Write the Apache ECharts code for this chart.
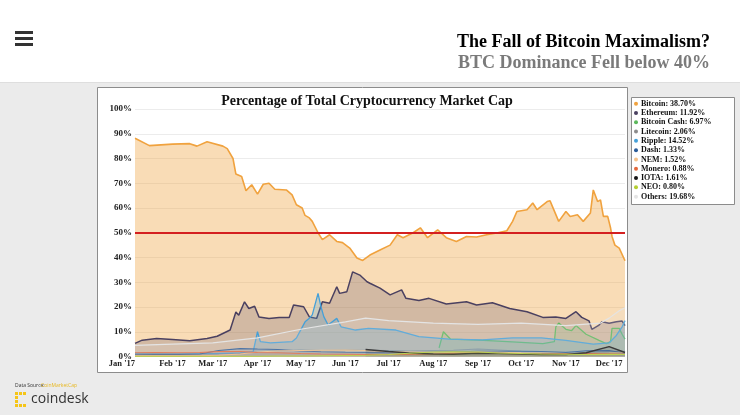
<!DOCTYPE html>
<html><head><meta charset="utf-8">
<script src="https://cdn.jsdelivr.net/npm/echarts@6/dist/echarts.min.js"></script>
<style>html,body{margin:0;padding:0;background:#ebebeb}#c{width:740px;height:415px}</style>
</head><body><div id="c"></div>
<script>
// ---- data ----
const pageTitle = 'The Fall of Bitcoin Maximalism?';
const pageSubtitle = 'BTC Dominance Fell below 40%';
const chartTitle = 'Percentage of Total Cryptocurrency Market Cap';
const seriesNames = ['Bitcoin','Ethereum','Bitcoin Cash','Litecoin','Ripple','Dash','NEM','Monero','IOTA','NEO','Others'];
const legendPct = ['38.70%','11.92%','6.97%','2.06%','14.52%','1.33%','1.52%','0.88%','1.61%','0.80%','19.68%'];
const monthNames = ['Jan','Feb','Mar','Apr','May','Jun','Jul','Aug','Sep','Oct','Nov','Dec'];
const xMin = '2017-01-06', xMax = '2017-12-12';
const referenceLine = 50;

const btcDates = ['2017-01-06','2017-01-16','2017-02-01','2017-02-13','2017-02-18','2017-02-25','2017-03-08','2017-03-11','2017-03-15','2017-03-17','2017-03-21','2017-03-24','2017-03-28','2017-04-01','2017-04-05','2017-04-09','2017-04-13','2017-04-21','2017-04-25','2017-04-28','2017-05-02','2017-05-04','2017-05-07','2017-05-09','2017-05-13','2017-05-16','2017-05-21','2017-05-26','2017-05-30','2017-06-04','2017-06-09','2017-06-13','2017-06-18','2017-06-25','2017-07-02','2017-07-07','2017-07-11','2017-07-18','2017-07-23','2017-07-28','2017-08-04','2017-08-10','2017-08-17','2017-08-24','2017-08-31','2017-09-07','2017-09-14','2017-09-21','2017-09-25','2017-09-28','2017-10-05','2017-10-09','2017-10-12','2017-10-19','2017-10-21','2017-10-27','2017-11-01','2017-11-04','2017-11-09','2017-11-13','2017-11-18','2017-11-20','2017-11-23','2017-11-25','2017-11-27','2017-11-30','2017-12-02','2017-12-03','2017-12-05','2017-12-08','2017-12-12'];
const btcValues = [88.2,85.2,85.8,86.0,85.0,86.8,85.0,84.0,80.0,73.7,72.7,67.0,69.4,65.6,69.6,70.0,67.6,67.3,65.3,61.3,60.0,57.0,56.0,54.6,50.0,47.2,49.2,46.5,46.0,43.8,39.8,38.8,41.0,43.0,45.0,49.2,48.0,50.0,52.0,48.0,51.2,48.0,46.5,48.5,48.3,49.2,49.9,50.8,54.6,58.6,59.3,62.0,59.3,62.6,62.9,54.6,58.6,56.6,57.3,54.6,58.0,67.3,62.6,63.3,56.6,56.6,51.9,48.5,45.0,43.8,38.7];

const ethDates = ['2017-01-06','2017-01-11','2017-01-21','2017-02-01','2017-02-13','2017-02-25','2017-03-04','2017-03-13','2017-03-17','2017-03-19','2017-03-23','2017-03-26','2017-03-30','2017-04-02','2017-04-09','2017-04-16','2017-04-23','2017-04-26','2017-04-30','2017-05-03','2017-05-07','2017-05-12','2017-05-16','2017-05-21','2017-05-26','2017-05-28','2017-06-02','2017-06-06','2017-06-11','2017-06-16','2017-06-18','2017-06-25','2017-07-02','2017-07-10','2017-07-13','2017-07-22','2017-07-29','2017-08-10','2017-08-24','2017-08-31','2017-09-11','2017-09-23','2017-10-05','2017-10-16','2017-10-25','2017-11-01','2017-11-08','2017-11-12','2017-11-17','2017-11-19','2017-11-24','2017-11-26','2017-12-01','2017-12-06','2017-12-10','2017-12-12'];
const ethValues = [5.3,6.6,7.3,6.9,6.4,7.3,8.2,10.7,18.0,16.7,22.1,19.4,20.3,16.0,15.4,15.8,15.8,20.8,20.4,20.1,16.0,15.4,22.1,21.5,28.2,25.5,26.2,34.2,32.9,30.2,29.6,27.6,24.9,26.9,23.5,22.6,23.5,21.2,22.1,20.8,21.7,19.4,18.1,15.8,16.0,15.4,18.1,15.8,14.4,11.0,12.7,14.0,13.4,14.0,14.3,12.5];

const xrpDates = ['2017-01-06','2017-02-01','2017-03-01','2017-03-20','2017-03-29','2017-04-01','2017-04-03','2017-04-10','2017-04-25','2017-04-28','2017-05-04','2017-05-07','2017-05-09','2017-05-13','2017-05-15','2017-05-17','2017-05-20','2017-05-26','2017-05-29','2017-06-08','2017-06-17','2017-07-06','2017-07-22','2017-08-12','2017-09-04','2017-09-25','2017-10-15','2017-11-01','2017-11-20','2017-12-01','2017-12-06','2017-12-10','2017-12-12'];
const xrpValues = [1.3,1.2,1.2,1.5,2.0,10.0,6.0,5.5,6.0,7.5,14.0,15.5,16.8,25.5,20.2,16.1,12.7,15.4,12.0,10.7,11.4,10.7,8.0,7.0,6.7,7.5,7.5,6.5,5.0,5.5,8.5,12.0,14.5];

const bchDates = ['2017-08-05','2017-08-08','2017-08-13','2017-09-05','2017-09-28','2017-10-16','2017-10-24','2017-10-25','2017-10-27','2017-11-01','2017-11-05','2017-11-08','2017-11-15','2017-11-24','2017-11-29','2017-12-02','2017-12-03','2017-12-08','2017-12-10','2017-12-12'];
const bchValues = [3.5,10.0,7.0,6.5,5.8,5.2,6.0,12.0,13.5,11.0,10.5,12.5,9.0,6.5,5.2,6.0,11.4,11.4,9.0,7.0];

const othersDates = ['2017-01-06','2017-02-01','2017-03-01','2017-04-01','2017-05-01','2017-06-01','2017-06-15','2017-07-01','2017-08-01','2017-09-01','2017-10-01','2017-11-01','2017-11-25','2017-12-01','2017-12-08','2017-12-12'];
const othersValues = [4.5,5.0,5.5,7.5,11.0,14.0,15.5,14.5,13.5,13.0,13.5,12.5,13.5,15.5,18.5,19.7];

const smallDates = ['2017-01-06','2017-01-20','2017-02-05','2017-02-20','2017-03-05','2017-03-20','2017-04-01','2017-04-15','2017-05-01','2017-05-15','2017-06-01','2017-06-15','2017-07-01','2017-07-15','2017-08-01','2017-08-15','2017-09-01','2017-09-15','2017-10-01','2017-10-15','2017-11-01','2017-11-15','2017-12-01','2017-12-12'];
const ltcValues  = [1.3,1.2,1.2,1.1,1.2,1.3,1.8,2.3,2.6,2.4,2.6,2.5,2.4,2.2,2.4,2.5,3.0,2.6,2.1,1.9,1.8,1.7,2.0,2.06];
const dashValues = [0.7,0.8,0.8,1.0,2.4,3.2,3.0,2.8,2.2,1.9,1.7,1.6,1.5,1.6,1.8,1.8,2.1,2.1,2.1,2.0,1.6,2.3,2.4,1.33];
const nemValues  = [0.3,0.3,0.3,0.3,0.5,1.0,1.8,2.2,2.4,2.5,2.6,2.4,1.9,1.8,1.7,1.6,1.8,1.7,1.5,1.4,1.2,1.3,1.4,1.52];
const xmrValues  = [1.5,1.6,1.5,1.6,2.0,2.0,1.6,1.5,1.2,1.0,0.9,0.8,0.8,0.8,1.0,1.3,1.4,1.2,1.1,1.0,1.1,1.2,1.1,0.88];
const iotaValues = [null,null,null,null,null,null,null,null,null,null,null,2.8,2.0,1.4,1.0,0.9,1.3,1.2,1.0,0.8,0.8,1.5,4.0,1.61];
const neoValues  = [0.1,0.1,0.1,0.1,0.1,0.1,0.1,0.2,0.2,0.3,0.4,0.5,0.8,1.3,1.8,1.9,1.8,1.4,1.2,1.0,0.9,0.8,0.9,0.80];

// ---- chart ----
const zip = (d, v) => d.map((x, i) => [x, v[i]]);
const seriesData = [
  zip(btcDates, btcValues), zip(ethDates, ethValues), zip(bchDates, bchValues),
  zip(smallDates, ltcValues), zip(xrpDates, xrpValues), zip(smallDates, dashValues),
  zip(smallDates, nemValues), zip(smallDates, xmrValues), zip(smallDates, iotaValues),
  zip(smallDates, neoValues), zip(othersDates, othersValues)
];
const lineColors = ['#f0a23e','#4a4060','#5cb85c','#8c8c8c','#45a0d8','#2b5c99','#f6c28b','#e4683c','#151515','#b5cf32','#e4e4e4'];
const areaOpacity = [0.38,0.22,0.15,0.12,0.25,0.12,0.12,0.12,0.15,0.12,0.18];
const lineWidths = [1.6,1.5,1.3,1.1,1.3,1.1,1.1,1.1,1.5,1.1,1.2];
const serif = '"Liberation Serif","Times New Roman",serif';

const series = seriesNames.map((n, i) => {
  const s = {
    name: n, type: 'line', data: seriesData[i], showSymbol: false, symbol: 'circle',
    connectNulls: false, z: 2 + i,
    lineStyle: { color: lineColors[i], width: lineWidths[i] },
    itemStyle: { color: lineColors[i] },
    areaStyle: { color: lineColors[i], opacity: areaOpacity[i] },
    emphasis: { disabled: true }
  };
  if (i === 0) {
    s.markLine = { silent: true, symbol: 'none', label: { show: false },
      lineStyle: { color: '#d42020', width: 2, type: 'solid' },
      data: [{ yAxis: referenceLine }] };
  }
  return s;
});

const hamburger = [31, 37, 43].map(y => ({ type: 'rect', shape: { x: 15, y: y, width: 18, height: 3 }, style: { fill: '#333' } }));
const logoSquares = [[15,392],[19,392],[23,392],[15,396],[15,400],[15,404],[19,404],[23,404]].map(p => ({
  type: 'rect', shape: { x: p[0], y: p[1], width: 3, height: 3 }, style: { fill: '#f5c518' } }));

const chart = echarts.init(document.getElementById('c'), null, { renderer: 'canvas' });
chart.setOption({
  animation: false,
  backgroundColor: '#ebebeb',
  title: {
    text: chartTitle, left: 362, top: 89, textAlign: 'center',
    textStyle: { fontFamily: serif, fontWeight: 'bold', fontSize: 14, color: '#111' }
  },
  graphic: [
    { type: 'rect', z: -10, shape: { x: 0, y: 0, width: 740, height: 82 }, style: { fill: '#ffffff' } },
    { type: 'line', z: -10, shape: { x1: 0, y1: 82.5, x2: 740, y2: 82.5 }, style: { stroke: '#dedede', lineWidth: 1 } },
    { type: 'rect', z: -10, shape: { x: 97.5, y: 87.5, width: 530, height: 285 }, style: { fill: '#ffffff', stroke: '#8c8c8c', lineWidth: 1 } },
    { type: 'rect', z: -9, shape: { x: 631.5, y: 97.5, width: 103, height: 107 }, style: { fill: '#ffffff', stroke: '#8c8c8c', lineWidth: 1 } },
    { type: 'text', x: 710, y: 42, style: { text: pageTitle, fontFamily: serif, fontWeight: 'bold', fontSize: 18, fill: '#000', textAlign: 'right', textVerticalAlign: 'middle' } },
    { type: 'text', x: 710, y: 63, style: { text: pageSubtitle, fontFamily: serif, fontWeight: 'bold', fontSize: 18, fill: '#7a7a7a', textAlign: 'right', textVerticalAlign: 'middle' } },
    ...hamburger,
    { type: 'text', x: 15, y: 386, style: { text: 'Data Source:', fontFamily: '"Open Sans",sans-serif', fontSize: 5, fill: '#333', textVerticalAlign: 'middle' } },
    { type: 'text', x: 41, y: 386, style: { text: 'CoinMarketCap', fontFamily: '"Open Sans",sans-serif', fontSize: 5, fill: '#e8b820', textVerticalAlign: 'middle' } },
    ...logoSquares,
    { type: 'text', x: 31, y: 399, style: { text: 'coindesk', fontFamily: '"Open Sans",sans-serif', fontSize: 14, fill: '#333', textVerticalAlign: 'middle' } }
  ],
  legend: {
    orient: 'vertical', left: 634, top: 99, itemWidth: 4, itemHeight: 4, icon: 'circle', itemGap: 0,
    padding: 0, selectedMode: false,
    formatter: name => name + ': ' + legendPct[seriesNames.indexOf(name)],
    textStyle: { fontFamily: serif, fontWeight: 'bold', fontSize: 8, lineHeight: 9.3, color: '#111', padding: [0, 0, 0, -2] },
    data: seriesNames
  },
  grid: { left: 135, right: 115, top: 109, bottom: 58.5, containLabel: false },
  xAxis: {
    type: 'time', min: xMin, max: xMax, splitNumber: 11,
    axisLine: { show: false }, axisTick: { show: false }, splitLine: { show: false },
    axisLabel: {
      fontFamily: serif, fontWeight: 'bold', fontSize: 8.5, color: '#222', margin: 3,
      showMinLabel: true, showMaxLabel: false, alignMinLabel: 'right', hideOverlap: false,
      formatter: v => { const d = new Date(v); return monthNames[d.getMonth()] + " '" + String(d.getFullYear()).slice(2); }
    }
  },
  yAxis: {
    type: 'value', min: 0, max: 100, interval: 10,
    axisLine: { show: false }, axisTick: { show: false },
    splitLine: { lineStyle: { color: '#ececec', width: 1 } },
    axisLabel: { fontFamily: serif, fontWeight: 'bold', fontSize: 9, color: '#222', margin: 3, formatter: '{value}%' }
  },
  series: series
});
</script></body></html>
